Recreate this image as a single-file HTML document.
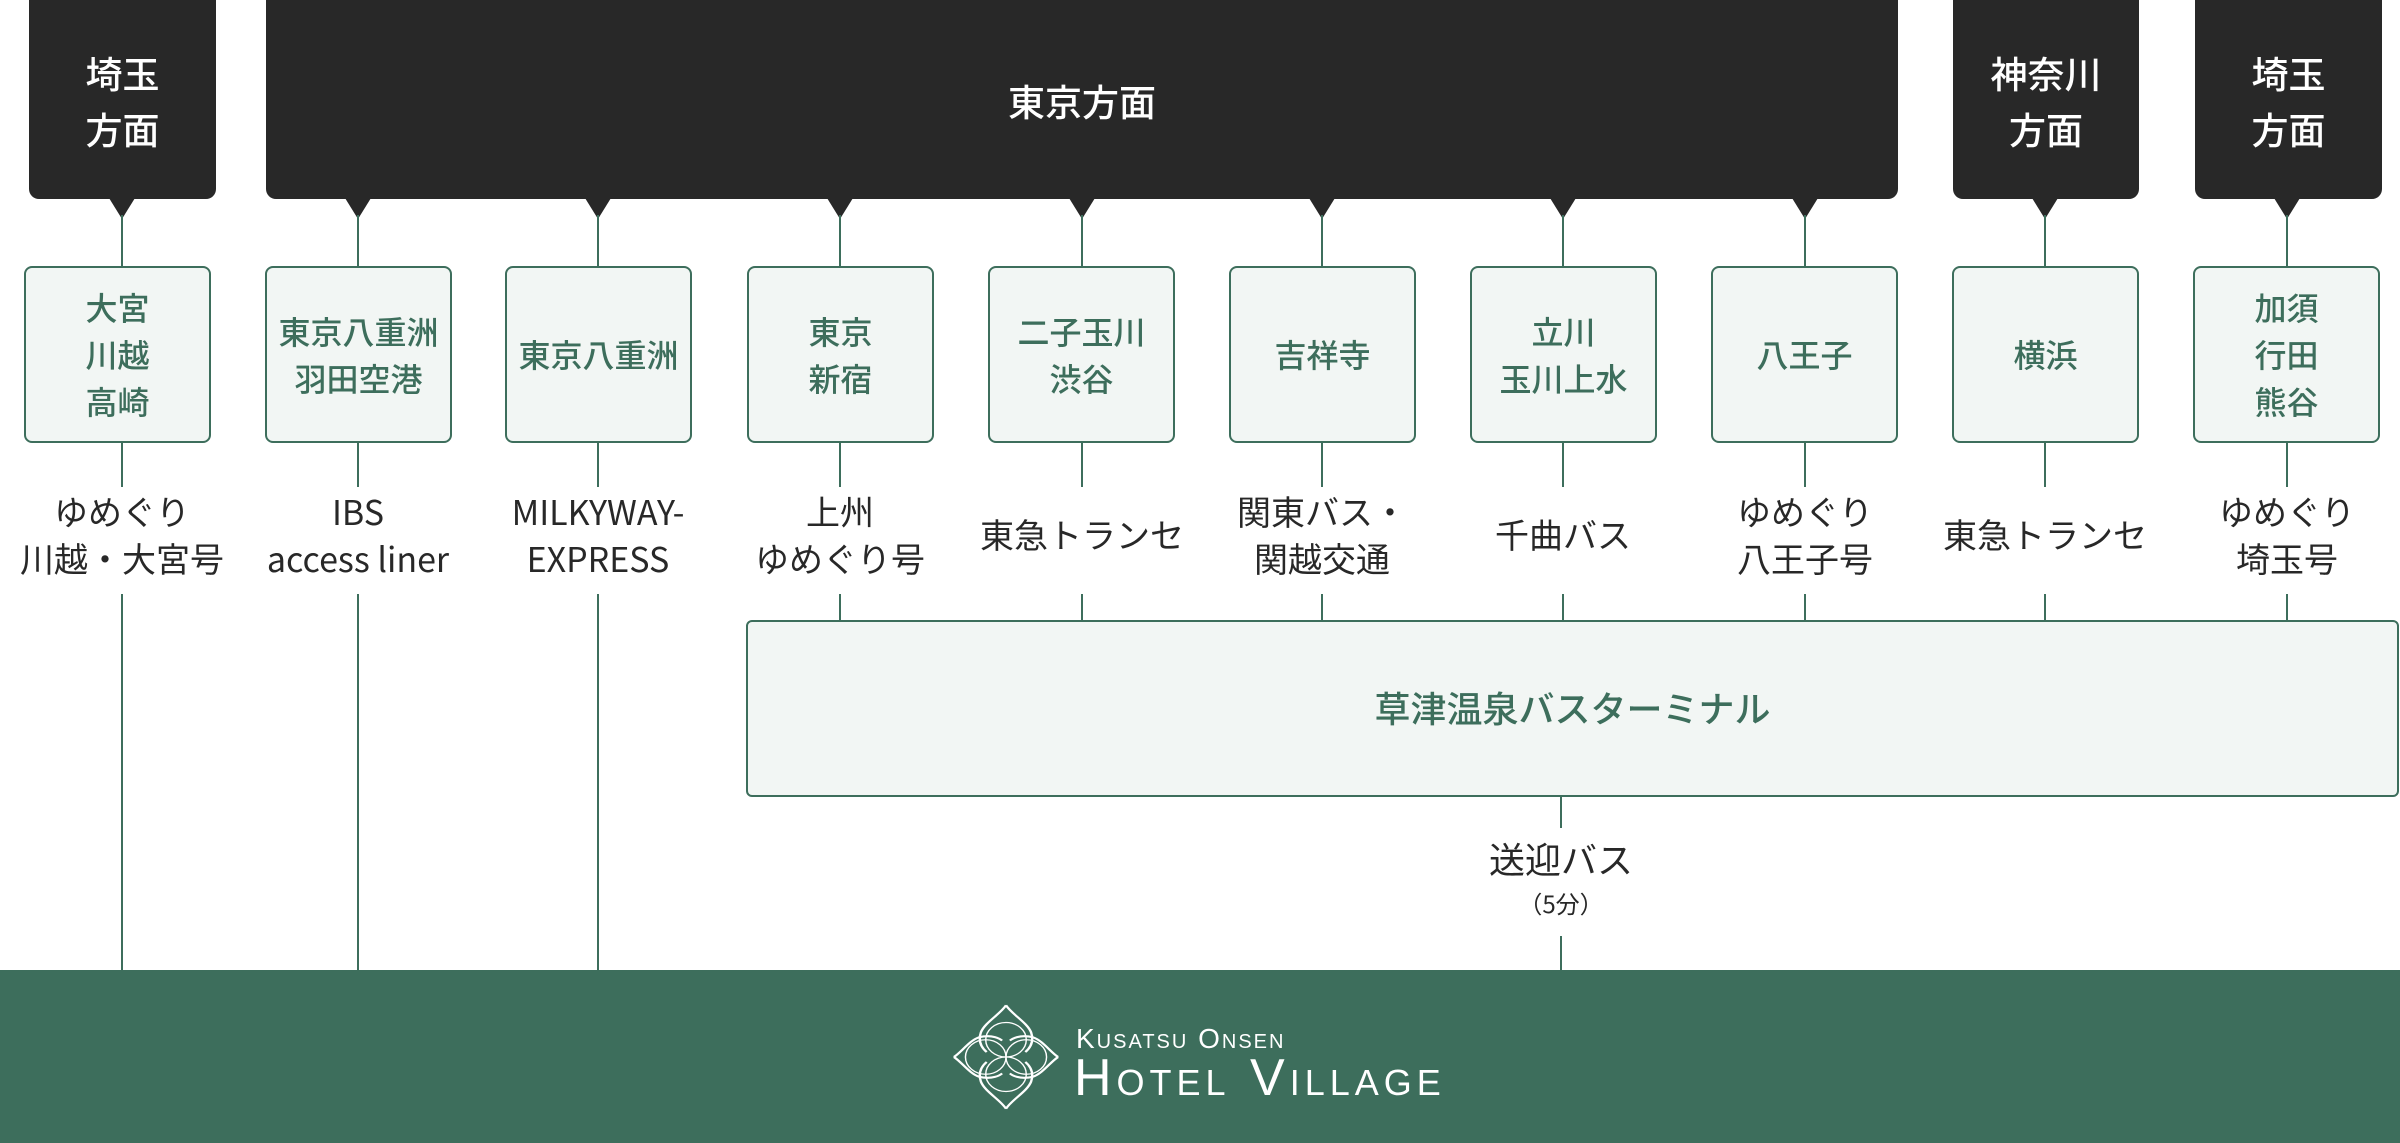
<!DOCTYPE html>
<html><head><meta charset="utf-8"><style>
*{margin:0;padding:0;box-sizing:border-box}
body{width:2400px;height:1143px;position:relative;background:#fff;overflow:hidden;font-family:"Noto Sans CJK JP","Liberation Sans",sans-serif}
.dk{position:absolute;top:0;height:199px;background:#282828;border-radius:0 0 10px 10px;color:#fff;font-size:37px;line-height:56px;display:flex;align-items:center;justify-content:center;text-align:center;font-weight:500}
.tri{position:absolute;top:198px;width:0;height:0;border-left:13px solid transparent;border-right:13px solid transparent;border-top:21px solid #282828}
.ln{position:absolute;width:2px;background:#3d6e5c}
.bx{position:absolute;top:266px;width:187px;height:177px;background:#f2f6f4;border:2px solid #3d6e5c;border-radius:8px;color:#3d6e5c;font-size:32px;line-height:47px;display:flex;align-items:center;justify-content:center;text-align:center;font-weight:500}
.lb{position:absolute;top:480px;width:240px;height:107px;color:#282828;font-size:34px;line-height:47px;display:flex;align-items:center;justify-content:center;text-align:center;white-space:nowrap}
</style></head><body>
<div class="dk" style="left:29px;width:187px">埼玉<br>方面</div>
<div class="dk" style="left:266px;width:1632px">東京方面</div>
<div class="dk" style="left:1953px;width:186px">神奈川<br>方面</div>
<div class="dk" style="left:2195px;width:187px">埼玉<br>方面</div>

<div class="tri" style="left:109px"></div>
<div class="tri" style="left:345px"></div>
<div class="tri" style="left:585px"></div>
<div class="tri" style="left:827px"></div>
<div class="tri" style="left:1069px"></div>
<div class="tri" style="left:1309px"></div>
<div class="tri" style="left:1550px"></div>
<div class="tri" style="left:1792px"></div>
<div class="tri" style="left:2032px"></div>
<div class="tri" style="left:2274px"></div>

<div class="ln" style="left:121px;top:215px;height:52px"></div>
<div class="ln" style="left:357px;top:215px;height:52px"></div>
<div class="ln" style="left:597px;top:215px;height:52px"></div>
<div class="ln" style="left:839px;top:215px;height:52px"></div>
<div class="ln" style="left:1081px;top:215px;height:52px"></div>
<div class="ln" style="left:1321px;top:215px;height:52px"></div>
<div class="ln" style="left:1562px;top:215px;height:52px"></div>
<div class="ln" style="left:1804px;top:215px;height:52px"></div>
<div class="ln" style="left:2044px;top:215px;height:52px"></div>
<div class="ln" style="left:2286px;top:215px;height:52px"></div>

<div class="ln" style="left:121px;top:442px;height:45px"></div>
<div class="ln" style="left:357px;top:442px;height:45px"></div>
<div class="ln" style="left:597px;top:442px;height:45px"></div>
<div class="ln" style="left:839px;top:442px;height:45px"></div>
<div class="ln" style="left:1081px;top:442px;height:45px"></div>
<div class="ln" style="left:1321px;top:442px;height:45px"></div>
<div class="ln" style="left:1562px;top:442px;height:45px"></div>
<div class="ln" style="left:1804px;top:442px;height:45px"></div>
<div class="ln" style="left:2044px;top:442px;height:45px"></div>
<div class="ln" style="left:2286px;top:442px;height:45px"></div>

<div class="ln" style="left:121px;top:594px;height:376px"></div>
<div class="ln" style="left:357px;top:594px;height:376px"></div>
<div class="ln" style="left:597px;top:594px;height:376px"></div>
<div class="ln" style="left:839px;top:594px;height:28px"></div>
<div class="ln" style="left:1081px;top:594px;height:28px"></div>
<div class="ln" style="left:1321px;top:594px;height:28px"></div>
<div class="ln" style="left:1562px;top:594px;height:28px"></div>
<div class="ln" style="left:1804px;top:594px;height:28px"></div>
<div class="ln" style="left:2044px;top:594px;height:28px"></div>
<div class="ln" style="left:2286px;top:594px;height:28px"></div>
<div class="ln" style="left:1560px;top:796px;height:32px"></div>
<div class="ln" style="left:1560px;top:936px;height:34px"></div>

<div class="bx" style="left:24px">大宮<br>川越<br>高崎</div>
<div class="bx" style="left:265px">東京八重洲<br>羽田空港</div>
<div class="bx" style="left:505px">東京八重洲</div>
<div class="bx" style="left:747px">東京<br>新宿</div>
<div class="bx" style="left:988px">二子玉川<br>渋谷</div>
<div class="bx" style="left:1229px">吉祥寺</div>
<div class="bx" style="left:1470px">立川<br>玉川上水</div>
<div class="bx" style="left:1711px">八王子</div>
<div class="bx" style="left:1952px">横浜</div>
<div class="bx" style="left:2193px">加須<br>行田<br>熊谷</div>

<div class="lb" style="left:2px">ゆめぐり<br>川越・大宮号</div>
<div class="lb" style="left:238px">IBS<br>access liner</div>
<div class="lb" style="left:478px">MILKYWAY-<br>EXPRESS</div>
<div class="lb" style="left:720px">上州<br>ゆめぐり号</div>
<div class="lb" style="left:962px">東急トランセ</div>
<div class="lb" style="left:1202px">関東バス・<br>関越交通</div>
<div class="lb" style="left:1443px">千曲バス</div>
<div class="lb" style="left:1685px">ゆめぐり<br>八王子号</div>
<div class="lb" style="left:1925px">東急トランセ</div>
<div class="lb" style="left:2167px">ゆめぐり<br>埼玉号</div>

<div style="position:absolute;left:746px;top:620px;width:1653px;height:177px;background:#f2f6f4;border:2px solid #3d6e5c;border-radius:6px;color:#3d6e5c;font-size:36px;display:flex;align-items:center;justify-content:center;font-weight:500;padding-bottom:4px">草津温泉バスターミナル</div>

<div style="position:absolute;left:1361px;top:834px;width:400px;text-align:center;color:#282828;font-size:36px;line-height:48px">送迎バス</div>
<div style="position:absolute;left:1361px;top:886px;width:400px;text-align:center;color:#282828;font-size:24px;line-height:34px">（5分）</div>

<div style="position:absolute;left:0;top:970px;width:2400px;height:173px;background:#3d6e5c"></div>
<svg style="position:absolute;left:950px;top:1002px" width="112" height="110" viewBox="-58 -67 116 134" preserveAspectRatio="none">
<g fill="none" stroke="#fff" stroke-width="2.5">
<path d="M0,-63 C-6,-52 -22,-42 -26,-30 C-30,-16 -22,-8 -20,-6 M0,-63 C6,-52 22,-42 26,-30 C30,-16 22,-8 20,-6"/>
<path d="M0,63 C-6,52 -22,42 -26,30 C-30,16 -22,8 -20,6 M0,63 C6,52 22,42 26,30 C30,16 22,8 20,6"/>
<path d="M-54,0 C-46,-6 -38,-20 -28,-24 C-14,-28 -6,-22 -4,-20 M-54,0 C-46,6 -38,20 -28,24 C-14,28 -6,22 -4,20"/>
<path d="M54,0 C46,-6 38,-20 28,-24 C14,-28 6,-22 4,-20 M54,0 C46,6 38,20 28,24 C14,28 6,22 4,20"/>
<circle cx="0" cy="-21" r="21" stroke-width="1.5"/>
<circle cx="0" cy="21" r="21" stroke-width="1.5"/>
<circle cx="-21" cy="0" r="21" stroke-width="1.5"/>
<circle cx="21" cy="0" r="21" stroke-width="1.5"/>
</g></svg>
<div style="position:absolute;left:1076px;top:1023px;color:#fff;font-family:'Liberation Sans',sans-serif;font-size:28px;line-height:32px;font-variant:small-caps;letter-spacing:2px;white-space:nowrap">Kusatsu Onsen</div>
<div style="position:absolute;left:1074px;top:1050px;color:#fff;font-family:'Liberation Sans',sans-serif;font-size:52px;line-height:56px;font-variant:small-caps;letter-spacing:5px;white-space:nowrap">Hotel Village</div>
</body></html>
